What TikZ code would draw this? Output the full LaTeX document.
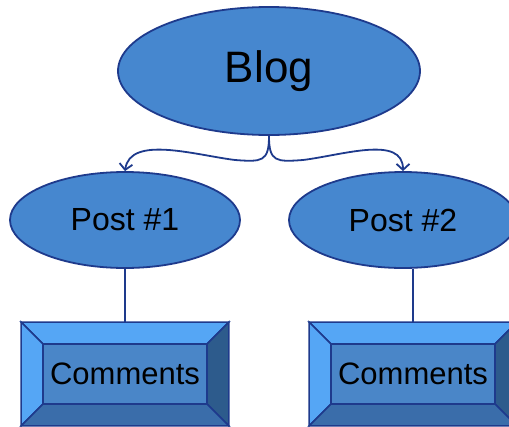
\documentclass[tikz,border=0pt]{standalone}
\usepackage{fontspec}
\setmainfont{Liberation Sans}
\usetikzlibrary{shapes.geometric,arrows.meta,calc}

\definecolor{nodefill}{HTML}{4687CF}
\definecolor{nodeline}{HTML}{1E3A8C}
\definecolor{bevtop}{HTML}{55A6F5}
\definecolor{bevface}{HTML}{4A86C8}
\definecolor{bevright}{HTML}{2D5B8C}
\definecolor{bevbottom}{HTML}{3A6DAA}

% bevelled button drawn round a named node
\newcommand{\bevel}[1]{%
  \coordinate (#1-a) at ($(#1.north west)+(22pt,-22pt)$);
  \coordinate (#1-b) at ($(#1.north east)+(-22pt,-22pt)$);
  \coordinate (#1-c) at ($(#1.south east)+(-22pt,22pt)$);
  \coordinate (#1-d) at ($(#1.south west)+(22pt,22pt)$);
  \filldraw[fill=bevtop] (#1.north west) -- (#1.north east) -- (#1-b) -- (#1-a) -- cycle;
  \filldraw[fill=bevtop] (#1.north west) -- (#1-a) -- (#1-d) -- (#1.south west) -- cycle;
  \filldraw[fill=bevright] (#1.north east) -- (#1.south east) -- (#1-c) -- (#1-b) -- cycle;
  \filldraw[fill=bevbottom] (#1.south west) -- (#1-d) -- (#1-c) -- (#1.south east) -- cycle;
  \filldraw[fill=bevface] (#1-a) rectangle (#1-c);
}

\begin{document}
\begin{tikzpicture}[x=1pt, y=-1pt, line width=1.8pt, draw=nodeline,
  oval/.style={ellipse, draw=nodeline, fill=nodefill, inner sep=0pt},
  button/.style={rectangle, minimum width=206pt, minimum height=102pt, inner sep=0pt},
  link/.style={draw=nodeline, -{Straight Barb[length=6pt,width=13pt]}}]
  \useasboundingbox (0,0) rectangle (509,426);

  \node[oval, minimum width=302pt, minimum height=128pt] (blog) at (269,71)
    {\fontsize{44}{50}\selectfont Blog};
  \node[oval, minimum width=230pt, minimum height=96pt] (post1) at (125,220)
    {\fontsize{32}{36}\selectfont Post \#1};
  \node[oval, minimum width=228pt, minimum height=96pt] (post2) at (403,220)
    {\fontsize{32}{36}\selectfont Post \#2};

  \node[button] (comm1) at (125,374) {};
  \node[button] (comm2) at (413,374) {};
  \begin{scope}[draw=nodeline, line width=1.5pt]
    \bevel{comm1}
    \bevel{comm2}
  \end{scope}
  \node at (comm1) {\fontsize{31}{36}\selectfont Comments};
  \node at (comm2) {\fontsize{31}{36}\selectfont Comments};

  % curly split from the top node
  \draw[link] (blog.south) .. controls +(0,26) and (262,162) .. (235,160)
    .. controls (195,155) and (130,135) .. (post1.north);
  \draw[link] (blog.south) .. controls +(0,26) and (276,162) .. (303,160)
    .. controls (343,155) and (403,135) .. (post2.north);

  \draw (post1.south) -- (comm1.north);
  \draw (post2.south -| comm2.north) -- (comm2.north);
\end{tikzpicture}
\end{document}
